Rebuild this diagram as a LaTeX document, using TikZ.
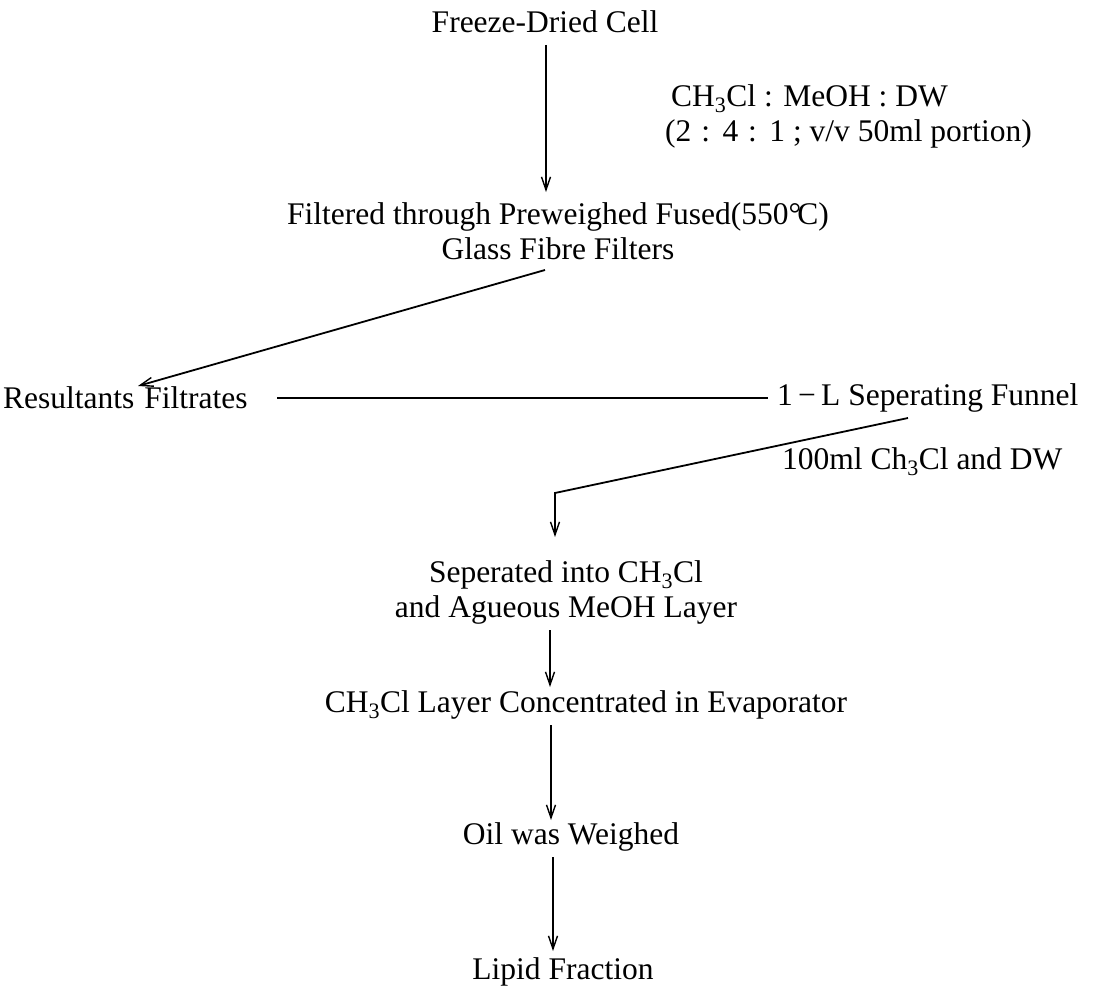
\documentclass[tikz,border=0pt]{standalone}
\usepackage{fontspec}
\setmainfont{Liberation Serif}
\usetikzlibrary{arrows.meta}
\newcommand{\sub}[1]{\textsubscript{#1}}
\newcommand{\degC}{°\kern-0.12em C}
\begin{document}
\begin{tikzpicture}[x=1pt,y=-1pt,
  lbl/.style={inner sep=0pt,font=\fontsize{31.5}{35}\selectfont},
  arr/.style={line width=1.4pt,-{Straight Barb[length=13pt,width=9pt,line width=1.4pt]}},
  thick arr/.style={arr,line width=1.8pt},
  ln/.style={line width=1.6pt}]
\useasboundingbox (0,0) rectangle (1096,990);
\node[lbl] (fdc) at (545,22) {Freeze-Dried Cell};
\node[lbl,anchor=west,align=left] (cond) at (665,116) {\hspace{6pt}CH\sub{3}Cl : MeOH : DW\\(2\hspace{2pt} : \hspace{2pt}4\hspace{2pt} : \hspace{2pt}1 ; v/v 50ml portion)};
\node[lbl,align=center] (filt) at (558,231) {Filtered through Preweighed Fused(550\degC)\\Glass Fibre Filters};
\node[lbl,anchor=west] (res) at (3,398) {Resultants\hspace{2pt} Filtrates};
\node[lbl,anchor=west] (fun) at (777,398) {1\,−\,L Seperating Funnel};
\node[lbl,anchor=west] (hund) at (782,462) {100ml Ch\sub{3}Cl and DW};
\node[lbl,align=center] (sep) at (566,592) {Seperated into CH\sub{3}Cl\\and Agueous MeOH Layer};
\node[lbl] (conc) at (586,705) {CH\sub{3}Cl Layer Concentrated in Evaporator};
\node[lbl] (oil) at (571,837) {Oil was Weighed};
\node[lbl] (lip) at (563,972) {Lipid Fraction};
\coordinate (a1) at (546,45);
\coordinate (a2) at (546,192);
\coordinate (b1) at (545,270);
\coordinate (b2) at (138,386);
\coordinate (c1) at (277,398);
\coordinate (c2) at (768,398);
\coordinate (f1) at (908,418);
\coordinate (f2) at (555,493);
\coordinate (f3) at (555,537);
\coordinate (s1) at (550,630);
\coordinate (s2) at (550,687);
\coordinate (k1) at (551,725);
\coordinate (k2) at (551,820);
\coordinate (o1) at (553,857);
\coordinate (o2) at (553,951);
\draw[arr] (a1) -- (a2);
\draw[thick arr] (b1) -- (b2);
\draw[ln] (c1) -- (c2);
\draw[thick arr] (f1) -- (f2) -- (f3);
\draw[arr] (s1) -- (s2);
\draw[arr] (k1) -- (k2);
\draw[arr] (o1) -- (o2);
\end{tikzpicture}
\end{document}
